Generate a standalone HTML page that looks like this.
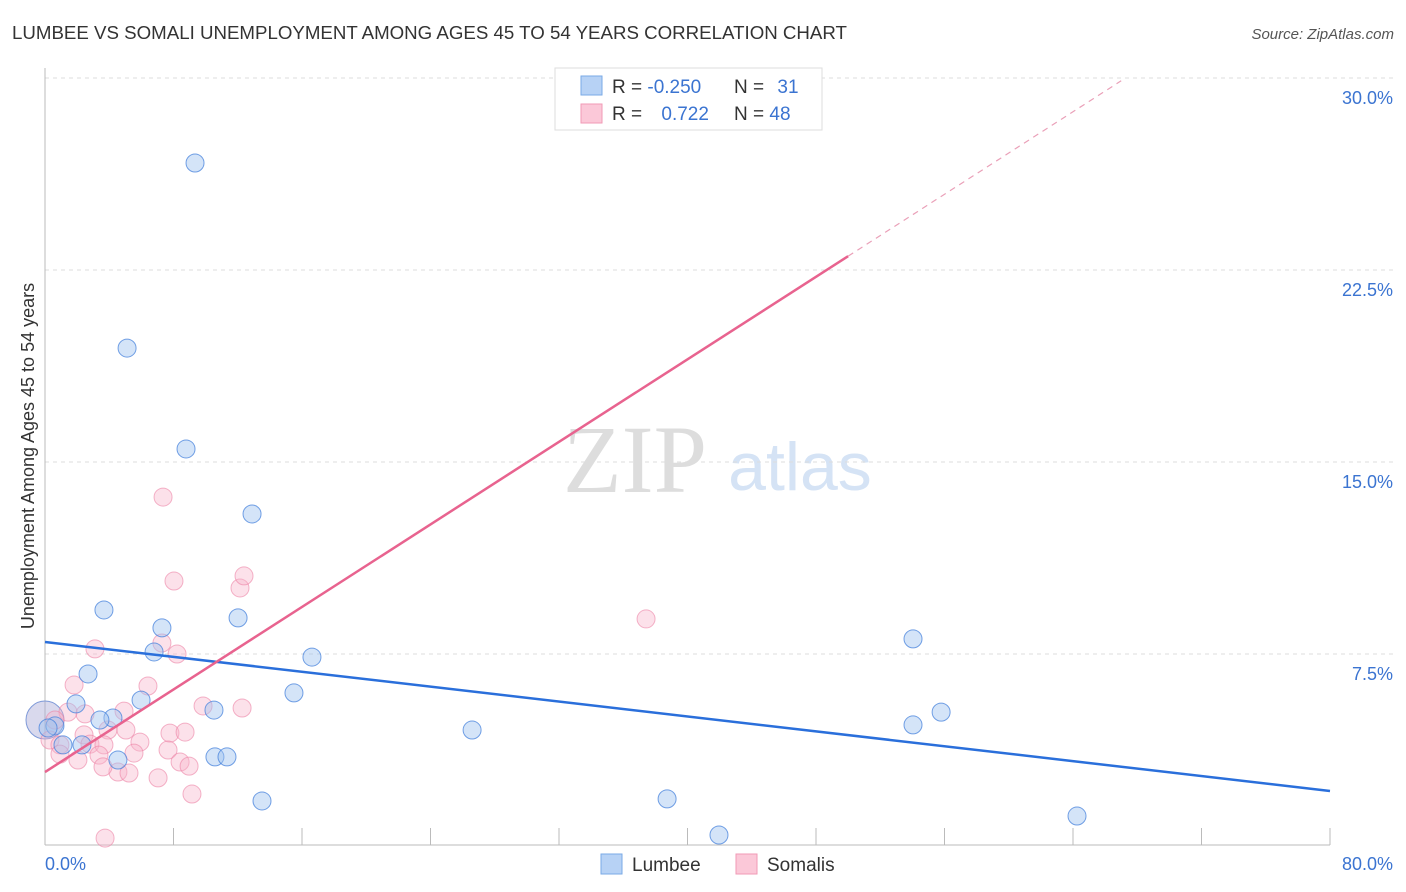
<!DOCTYPE html>
<html><head><meta charset="utf-8"><style>
body{margin:0;background:#fff;font-family:"Liberation Sans",sans-serif}
svg{display:block}
</style></head><body>
<svg width="1406" height="892" viewBox="0 0 1406 892">
<text x="12" y="39" font-size="18.7" fill="#333">LUMBEE VS SOMALI UNEMPLOYMENT AMONG AGES 45 TO 54 YEARS CORRELATION CHART</text>
<text x="1394" y="39" font-size="15" fill="#555" font-style="italic" text-anchor="end">Source: ZipAtlas.com</text>
<text x="635" y="492" font-size="96" fill="#ddd" font-family="Liberation Serif,serif" text-anchor="middle">ZIP</text>
<text x="800" y="490" font-size="68" fill="#d5e3f5" text-anchor="middle">atlas</text>
<g id="grid"></g>
<g id="axes"></g>
<text transform="translate(34,456) rotate(-90)" font-size="18" fill="#333" text-anchor="middle">Unemployment Among Ages 45 to 54 years</text>
<g id="pts"></g>
<g id="lines"></g>
<g>
<rect x="555" y="68" width="267" height="62" fill="#fff" stroke="#ddd"/>
<rect x="581" y="76" width="21" height="19" fill="#b7d2f5" stroke="#7aaae6"/>
<rect x="581" y="104" width="21" height="19" fill="#fbc8d8" stroke="#f09ab6"/>
<text x="612" y="93" font-size="19" fill="#333">R = <tspan fill="#3b74d1">-0.250</tspan></text>
<text x="734" y="93" font-size="19" fill="#333">N = <tspan fill="#3b74d1" dx="8">31</tspan></text>
<text x="612" y="120" font-size="19" fill="#333">R = <tspan fill="#3b74d1" dx="14">0.722</tspan></text>
<text x="734" y="120" font-size="19" fill="#333">N = <tspan fill="#3b74d1">48</tspan></text>
</g>
<g>
<rect x="601" y="854" width="21" height="20" fill="#b7d2f5" stroke="#7aaae6"/>
<text x="632" y="871" font-size="19" fill="#333">Lumbee</text>
<rect x="736" y="854" width="21" height="20" fill="#fbc8d8" stroke="#f09ab6"/>
<text x="767" y="871" font-size="19" fill="#333">Somalis</text>
</g>
</svg>
<script>
const xTicks=[0,8,16,24,32,40,48,56,64,72,80];
const yTicks=[7.5,15,22.5,30];
const yTickLabels=["7.5%","15.0%","22.5%","30.0%"];
const lumbeeX=[9.34,5.11,8.78,12.89,3.67,12.02,7.28,6.79,16.62,2.68,15.50,5.98,1.93,10.52,4.23,3.42,0.62,0.19,26.59,10.58,11.33,4.54,13.51,38.73,41.96,64.25,54.04,55.79,54.04,1.12,2.30];
const lumbeeY=[26.68,19.45,15.51,12.97,9.22,8.91,8.52,7.58,7.38,6.72,5.98,5.70,5.55,5.31,5.00,4.92,4.69,4.61,4.53,3.48,3.48,3.36,1.76,1.84,0.43,1.17,8.09,5.23,4.73,3.95,3.95];
const somaliX=[7.35,8.03,12.14,12.39,3.11,7.28,8.22,1.81,6.41,9.84,12.27,2.49,1.43,4.92,3.92,5.04,7.78,8.72,0.62,0.31,0.93,2.43,2.80,3.67,5.91,7.66,5.54,3.36,2.05,0.93,8.41,4.54,5.23,3.61,7.04,8.97,9.15,3.74,37.42,41.53];
const somaliY=[13.63,10.35,10.08,10.55,7.70,7.93,7.50,6.29,6.25,5.47,5.39,5.16,5.23,5.27,4.53,4.53,4.41,4.45,4.92,4.14,3.95,4.34,3.98,3.95,4.06,3.75,3.63,3.55,3.36,3.59,3.28,2.89,2.85,3.09,2.66,3.12,2.03,0.31,8.87,29.69];
const lumbeeTrend=[7.97,2.15];
const somaliTrend=[2.89,0.403];
const X=v=>45+v*1285/80, Y=v=>846-v*192/7.5;
const NS="http://www.w3.org/2000/svg";
function mk(t,a,p){const e=document.createElementNS(NS,t);for(const k in a)e.setAttribute(k,a[k]);p.appendChild(e);return e;}
const grid=document.getElementById('grid'),axes=document.getElementById('axes'),pts=document.getElementById('pts'),lines=document.getElementById('lines');
yTicks.forEach((v,i)=>{
 const l=mk('line',{x1:45,x2:1393,y1:Y(v),y2:Y(v),stroke:'#ddd','stroke-dasharray':'4,4'},grid);
 
 
 const t=mk('text',{x:1393,y:Y(v)+26,'font-size':18,fill:'#3b74d1','text-anchor':'end'},grid);
 t.textContent=yTickLabels[i];
 
 
});
const ax=mk('line',{x1:45,x2:1330,y1:845,y2:845,stroke:'#bbb'},axes);


const ay=mk('line',{x1:45,x2:45,y1:68,y2:845,stroke:'#bbb'},axes);


xTicks.forEach(v=>{
 const t=mk('line',{x1:X(v),x2:X(v),y1:828,y2:845,stroke:'#bbb'},axes);
 
 
});
const xl=mk('text',{x:45,y:870,'font-size':18,fill:'#3b74d1'},axes);xl.textContent='0.0%';


const xr=mk('text',{x:1393,y:870,'font-size':18,fill:'#3b74d1','text-anchor':'end'},axes);xr.textContent='80.0%';


const big=mk('circle',{cx:X(0),cy:Y(4.92),r:19,fill:'rgba(170,170,215,0.45)',stroke:'#7f9ad8'},pts);


somaliX.forEach((x,i)=>{
 const c=mk('circle',{cx:X(x),cy:Y(somaliY[i]),r:9,fill:'rgba(248,180,202,0.4)',stroke:'rgba(236,130,165,0.6)'},pts);
 
 
});
lumbeeX.forEach((x,i)=>{
 const c=mk('circle',{cx:X(x),cy:Y(lumbeeY[i]),r:9,fill:'rgba(160,195,240,0.45)',stroke:'rgba(70,130,220,0.75)'},pts);
 
 
});
const bl=mk('line',{x1:X(0),y1:Y(lumbeeTrend[0]),x2:X(80),y2:Y(lumbeeTrend[1]),stroke:'#2a6fdb','stroke-width':2.5},lines);


const sf=x=>somaliTrend[0]+somaliTrend[1]*x;
const pl=mk('line',{x1:X(0),y1:Y(sf(0)),x2:X(50),y2:Y(sf(50)),stroke:'#e8638f','stroke-width':2.5},lines);


const pd=mk('line',{x1:X(50),y1:Y(sf(50)),x2:X(67),y2:Y(sf(67)),stroke:'#eaa0b8','stroke-width':1.2,'stroke-dasharray':'6,5'},lines);


</script>
</body></html>
